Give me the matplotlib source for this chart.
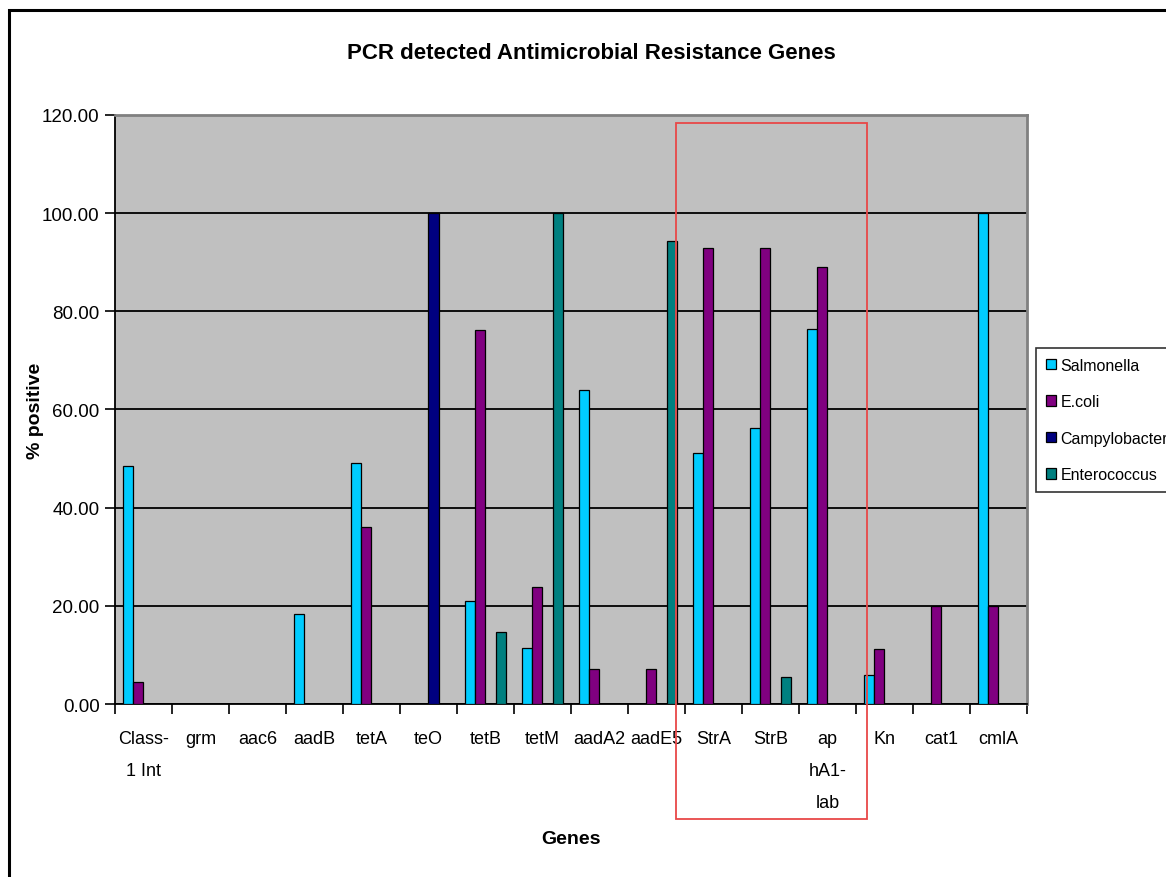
import numpy as np
import matplotlib
matplotlib.use("Agg")
import matplotlib.pyplot as plt
from matplotlib.patches import Rectangle

plt.rcParams['font.family'] = ['Liberation Sans', 'DejaVu Sans']

# data
genes = ["Class-\n1 Int", "grm", "aac6", "aadB", "tetA", "teO", "tetB", "tetM",
         "aadA2", "aadE5", "StrA", "StrB", "ap\nhA1-\nlab", "Kn", "cat1", "cmlA"]
salmonella = [48.4, 0, 0, 18.3, 49.0, 0, 21.0, 11.5, 64.0, 0, 51.2, 56.3, 76.4, 5.9, 0, 100.0]
ecoli = [4.4, 0, 0, 0, 36.0, 0, 76.1, 23.8, 7.1, 7.1, 92.9, 92.9, 89.1, 11.3, 20.0, 20.0]
campylobacter = [0, 0, 0, 0, 0, 100.0, 0, 0, 0, 0, 0, 0, 0, 0, 0, 0]
enterococcus = [0, 0, 0, 0, 0, 0, 14.7, 100.0, 0, 94.3, 0, 5.5, 0, 0, 0, 0]

series = [("Salmonella", salmonella, "#00CCFF"),
          ("E.coli", ecoli, "#800080"),
          ("Campylobacter", campylobacter, "#000080"),
          ("Enterococcus", enterococcus, "#008080")]

fig = plt.figure(figsize=(11.66, 8.78), dpi=100)
ax = fig.add_axes([0.0986, 0.197, 0.782, 0.671])
ax.set_facecolor("#C0C0C0")

x = np.arange(len(genes))
w = 0.182
for i, (name, vals, col) in enumerate(series):
    ax.bar(x + (i - 1.5) * w, vals, width=w, color=col, edgecolor="black",
           linewidth=0.9, label=name, zorder=3)

ax.set_xlim(-0.5, len(genes) - 0.5)
ax.set_ylim(0, 120)
ax.set_yticks(np.arange(0, 121, 20))
ax.set_yticklabels([f"{v:.2f}" for v in np.arange(0, 121, 20)], fontsize=13.5)
ax.yaxis.grid(True, color="black", linewidth=1.3, zorder=1)
ax.set_axisbelow(True)

# ticks between categories, labels under categories
ax.set_xticks(np.arange(-0.5, len(genes), 1.0))
ax.set_xticklabels([])
ax.set_xticks(x, minor=True)
ax.set_xticklabels(genes, minor=True, fontsize=13, linespacing=2.15, va="top")
ax.tick_params(axis="x", which="minor", length=0, pad=19)
ax.tick_params(axis="x", which="major", length=7, width=1.2)
ax.tick_params(axis="y", length=7, width=1.2, pad=4)

for s in ["top", "right"]:
    ax.spines[s].set_color("#808080")
    ax.spines[s].set_linewidth(2)
for s in ["left", "bottom"]:
    ax.spines[s].set_linewidth(1.3)

ax.set_ylabel("% positive", fontsize=14, fontweight="bold")
ax.yaxis.set_label_coords(-0.078, 0.5)
ax.set_xlabel("Genes", fontsize=14, fontweight="bold")
ax.xaxis.set_label_coords(0.5, -0.214)
fig.text(0.507, 0.939, "PCR detected Antimicrobial Resistance Genes",
         fontsize=16, fontweight="bold", ha="center", va="center")

leg = ax.legend(loc="upper left", bbox_to_anchor=(0.8885, 0.6025),
                bbox_transform=fig.transFigure, fontsize=11.5, frameon=True,
                fancybox=False, borderaxespad=0, handlelength=0.65,
                handleheight=0.65, handletextpad=0.3, labelspacing=1.35,
                borderpad=0.6)
leg.get_frame().set_edgecolor("black")
leg.get_frame().set_linewidth(1.2)

# red highlight box around StrA, StrB, aphA1-lab
ax.add_patch(Rectangle((9.34, -23.4), 3.35, 141.8, fill=False,
                       edgecolor="#E84848", linewidth=1.3, clip_on=False, zorder=5))

# outer chart border
fig.patches.append(Rectangle((9 / 1166, -0.1), 1.2, 1.1 - 11 / 878,
                             transform=fig.transFigure, fill=False,
                             edgecolor="black", linewidth=2.2))

fig.savefig("out.png", dpi=100)
